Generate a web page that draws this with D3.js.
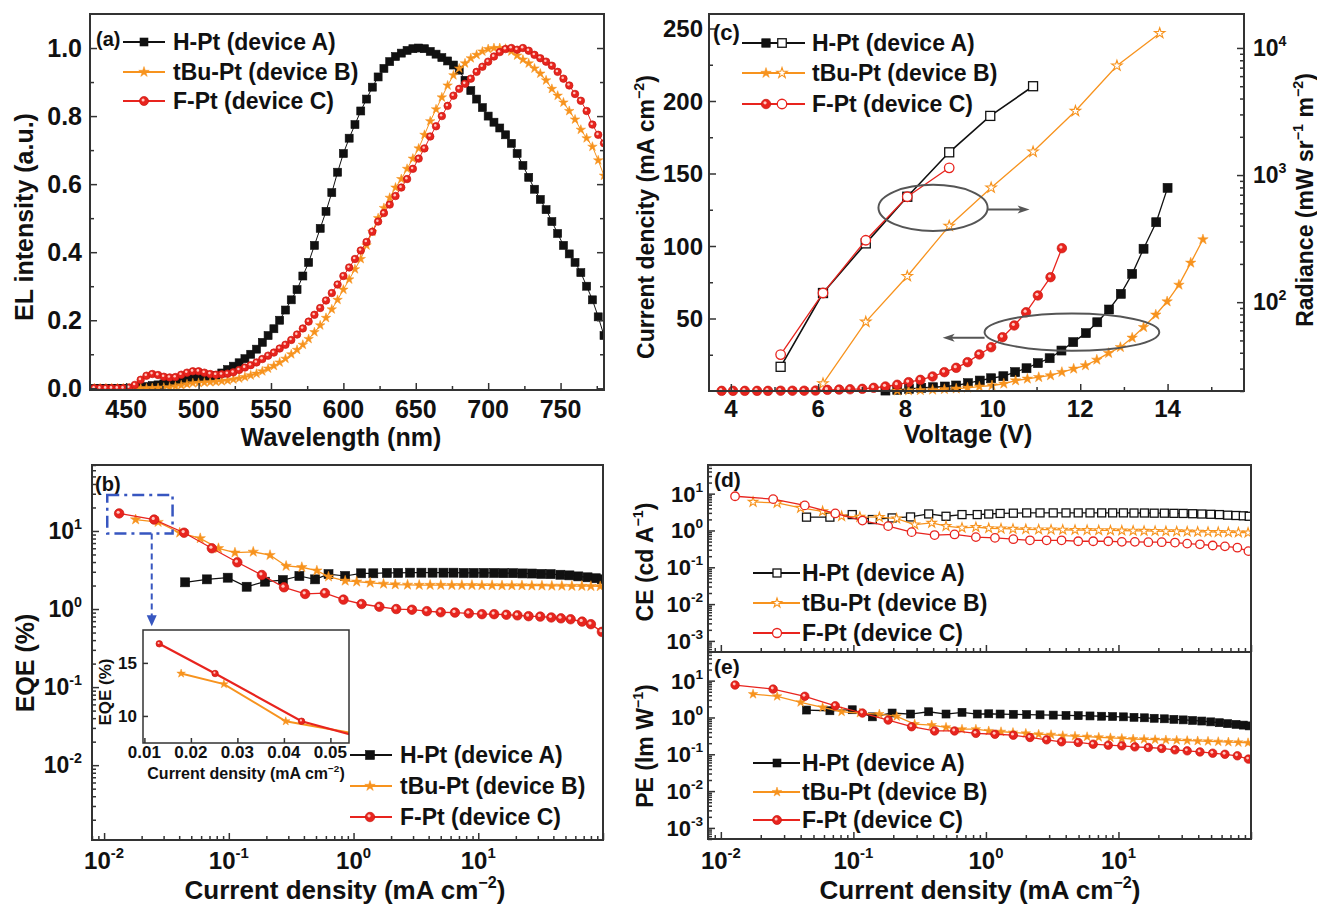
<!DOCTYPE html>
<html><head><meta charset="utf-8">
<script src="https://cdn.jsdelivr.net/npm/d3@7/dist/d3.min.js"></script>
<style>html,body{margin:0;padding:0;background:#fff;}</style>
</head><body>
<script>
// ================= DATA =================
const seriesLabels = ["H-Pt (device A)", "tBu-Pt (device B)", "F-Pt (device C)"];

// (a) EL spectra
const wavelength = [428,432,436,440,444,448,452,456,460,464,468,472,476,480,484,488,492,496,500,504,508,512,516,520,524,528,532,536,540,544,548,552,556,560,564,568,572,576,580,584,588,592,596,600,604,608,612,616,620,624,628,632,636,640,644,648,652,656,660,664,668,672,676,680,684,688,692,696,700,704,708,712,716,720,724,728,732,736,740,744,748,752,756,760,764,768,772,776,780];
const elA = [0,0,0,0,0,0,0,0.001,0.003,0.005,
 0.008,0.01,0.013,0.017,0.02,0.022,0.025,0.028,0.03,0.032,
 0.034,0.038,0.045,0.055,0.065,0.075,0.087,0.1,0.115,0.135,
 0.155,0.175,0.2,0.23,0.26,0.29,0.33,0.37,0.42,0.47,
 0.52,0.575,0.635,0.69,0.735,0.775,0.815,0.85,0.885,0.915,
 0.94,0.96,0.975,0.985,0.993,0.998,1.0,0.998,0.99,0.982,
 0.972,0.962,0.95,0.935,0.905,0.875,0.85,0.825,0.8,0.782,
 0.765,0.745,0.72,0.69,0.655,0.62,0.585,0.555,0.525,0.49,
 0.455,0.42,0.395,0.37,0.34,0.3,0.26,0.21,0.155];
const elB = [0,0,0,0,0,0,0,0,0,0,
 0.001,0.001,0.002,0.003,0.006,0.009,0.012,0.015,0.016,0.017,
 0.018,0.019,0.021,0.023,0.026,0.029,0.033,0.038,0.043,0.05,
 0.058,0.066,0.076,0.087,0.1,0.113,0.128,0.145,0.165,0.185,
 0.207,0.232,0.26,0.29,0.32,0.35,0.38,0.42,0.46,0.5,
 0.53,0.56,0.59,0.615,0.645,0.675,0.705,0.745,0.785,0.82,
 0.855,0.89,0.92,0.94,0.955,0.97,0.98,0.99,0.997,1.0,
 1.0,0.998,0.99,0.978,0.966,0.955,0.94,0.925,0.905,0.88,
 0.86,0.84,0.815,0.79,0.76,0.735,0.71,0.67,0.625];
const elC = [0,0,0,0,0,0,0.002,0.01,0.025,0.037,
 0.042,0.039,0.034,0.032,0.033,0.04,0.046,0.05,0.05,0.046,
 0.042,0.04,0.041,0.043,0.047,0.054,0.061,0.068,0.076,0.086,
 0.096,0.105,0.117,0.128,0.142,0.158,0.176,0.196,0.216,0.236,
 0.258,0.28,0.305,0.33,0.355,0.38,0.405,0.43,0.46,0.49,
 0.515,0.54,0.565,0.59,0.615,0.645,0.675,0.705,0.74,0.77,
 0.8,0.83,0.86,0.88,0.895,0.91,0.93,0.945,0.96,0.975,
 0.988,0.997,1.0,0.995,1.0,0.992,0.98,0.97,0.96,0.948,
 0.93,0.91,0.89,0.865,0.845,0.815,0.775,0.745,0.72];

// (c) current density (left axis) vs voltage
const voltJA = [7.54,7.81,8.08,8.36,8.63,8.90,9.16,9.43,9.70,9.96,10.24,10.51,10.77,11.03,11.30,11.57,11.84,12.13,12.39,12.66,12.93,13.19,13.45,13.74,14.0];
const currJA = [0.3,0.8,1.5,2.2,2.6,3.1,3.8,5.4,7.2,8.8,10.2,13.0,15.7,19.2,22.6,27.9,33.7,39.9,47.4,56.2,67.0,80.8,98.1,116.4,140.1];
const voltJB = [7.81,8.07,8.34,8.62,8.89,9.16,9.42,9.69,9.98,10.25,10.52,10.79,11.05,11.32,11.58,11.85,12.12,12.38,12.65,12.92,13.19,13.45,13.73,13.99,14.26,14.53,14.81];
const currJB = [0.2,0.3,0.5,0.8,1.2,1.6,2.2,3.0,3.8,5.0,7.2,8.4,9.5,10.7,13.0,15.3,17.6,21.5,26.1,30.2,36.7,44.0,52.6,61.7,73.2,88.4,104.5];
const voltJC = [3.79,4.05,4.32,4.60,4.85,5.14,5.41,5.68,5.94,6.21,6.48,6.73,7.01,7.27,7.54,7.81,8.07,8.34,8.62,8.89,9.16,9.42,9.69,9.96,10.22,10.49,10.76,11.03,11.32,11.58];
const currJC = [0.1,0.1,0.1,0.1,0.1,0.2,0.2,0.2,0.3,0.8,1.0,1.2,1.5,2.2,3.1,4.3,6.1,7.7,10.0,13.0,16.0,19.9,25.2,30.2,37.1,45.2,54.3,65.9,78.5,98.5];
// (c) radiance (right axis) vs voltage
const voltRA = [5.14,6.11,7.09,8.04,9.0,9.94,10.92];
const radA   = [31,118,290,675,1510,2920,5000];
const voltRB = [6.11,7.09,8.04,9.0,9.96,10.92,11.89,12.84,13.82];
const radB   = [22.9,70,160,398,795,1525,3190,7250,13070];
const voltRC = [5.14,6.11,7.09,8.04,9.0];
const radC   = [38.7,118,307,675,1140];

// (b) EQE vs current density
const cdbA = [0.0447,0.0667,0.098,0.139,0.195,0.271,0.368,0.492,0.63,0.857,1.15,1.44,1.85,2.28,2.84,3.5,4.3,5.26,6.33,7.65,9.2,11.1,13.4,15.9,19.0,22.6,27,32,38,45.5,53.8,63.4,75.2,87.5,98];
const eqeA = [2.2,2.4,2.52,1.93,2.24,2.35,2.65,2.4,2.8,2.65,2.87,2.87,2.9,2.9,2.92,2.92,2.92,2.92,2.92,2.9,2.9,2.9,2.9,2.88,2.88,2.86,2.85,2.82,2.8,2.75,2.7,2.62,2.55,2.48,2.4];
const cdbB = [0.0179,0.0271,0.0404,0.059,0.0826,0.112,0.157,0.214,0.288,0.385,0.508,0.63,0.857,1.06,1.36,1.74,2.16,2.71,3.36,4.11,5.01,6.14,7.39,8.9,10.7,12.9,15.5,18.6,22.4,26.9,32.4,38.9,46.8,56.3,67.7,80,95];
const eqeB = [14.0,13.0,9.5,8.05,6.0,5.27,5.4,4.9,3.56,3.43,3.1,2.6,2.3,2.24,2.17,2.1,2.06,2.04,2.03,2.03,2.03,2.02,2.02,2.02,2.01,2.01,2.0,2.0,2.0,1.99,1.99,1.98,1.98,1.97,1.97,1.96,1.95];
const cdbC = [0.0132,0.0252,0.0438,0.0731,0.117,0.184,0.277,0.409,0.59,0.83,1.16,1.61,2.2,2.94,3.87,5.0,6.5,8.4,10.7,13.4,16.8,20.6,25.3,31.4,38.5,46,55,68,80,98];
const eqeC = [16.8,14.0,9.5,6.0,3.97,2.73,1.90,1.56,1.6,1.32,1.16,1.07,1.0,0.98,0.94,0.91,0.90,0.88,0.86,0.86,0.845,0.83,0.81,0.80,0.78,0.76,0.74,0.69,0.64,0.51];

// (d) CE and (e) PE vs current density
const cdeA = [0.0443,0.0665,0.098,0.139,0.196,0.27,0.37,0.5,0.66,0.86,1.05,1.28,1.61,2.03,2.56,3.22,4.02,4.97,6.1,7.47,9.04,10.9,13.1,15.7,18.6,22.2,26.2,30.8,36.3,42.5,49.7,57.7,66.7,77.1,87.5,97];
const ceA  = [2.3,2.3,2.7,1.98,2.19,2.33,2.81,2.43,2.7,2.7,2.8,2.9,2.95,3.0,3.0,3.0,3.0,3.0,3.0,3.0,3.0,3.0,2.98,2.98,2.95,2.95,2.92,2.9,2.85,2.8,2.75,2.7,2.6,2.55,2.5,2.43];
const peA  = [1.59,1.52,1.62,1.04,1.32,1.24,1.43,1.24,1.38,1.24,1.26,1.24,1.22,1.2,1.18,1.16,1.14,1.12,1.1,1.08,1.06,1.04,1.01,0.98,0.95,0.92,0.89,0.86,0.83,0.8,0.76,0.72,0.68,0.65,0.62,0.59];
const cdeB = [0.0175,0.0266,0.040,0.0586,0.0815,0.112,0.157,0.212,0.29,0.39,0.5,0.66,0.84,1.05,1.3,1.6,2.0,2.5,3.1,3.8,4.7,5.8,7.1,8.7,10.6,12.9,15.6,18.9,22.8,27.5,33,39.6,47.4,56.6,67.5,80.3,95];
const ceB  = [5.96,5.6,4.1,3.3,2.43,2.33,2.29,2.1,1.45,1.6,1.31,1.18,1.23,1.15,1.12,1.1,1.08,1.06,1.05,1.04,1.03,1.02,1.01,1.0,0.99,0.98,0.97,0.96,0.95,0.94,0.93,0.92,0.91,0.9,0.89,0.88,0.87];
const peB  = [4.3,3.76,2.58,1.88,1.43,1.32,1.24,1.07,0.66,0.62,0.54,0.48,0.48,0.43,0.41,0.39,0.37,0.35,0.34,0.32,0.31,0.3,0.29,0.28,0.27,0.26,0.255,0.25,0.245,0.24,0.235,0.23,0.225,0.22,0.215,0.21,0.205];
const cdeC = [0.0128,0.0248,0.043,0.073,0.117,0.183,0.275,0.41,0.58,0.84,1.17,1.61,2.15,2.87,3.72,4.97,6.45,8.38,10.6,13.3,16.8,21.2,26.7,33,41.2,51.4,63.6,78.9,95.6];
const ceC  = [8.5,7.1,4.8,2.9,1.86,1.31,0.9,0.75,0.78,0.66,0.63,0.58,0.54,0.54,0.54,0.51,0.51,0.51,0.49,0.49,0.48,0.48,0.47,0.44,0.42,0.39,0.37,0.34,0.275];
const peC  = [7.6,5.9,3.76,2.08,1.32,0.85,0.56,0.43,0.43,0.37,0.35,0.33,0.286,0.247,0.218,0.21,0.188,0.177,0.17,0.159,0.153,0.144,0.132,0.124,0.116,0.107,0.1,0.091,0.074];

// tick labels
const ticksA_x = [450,500,550,600,650,700,750];
const ticksA_y = [0,0.2,0.4,0.6,0.8,1.0];
const ticksC_x = [4,6,8,10,12,14];
const ticksC_y = [50,100,150,200,250];
const ticksLog_x = [0.01,0.1,1,10];
const ticksIns_x = [0.01,0.02,0.03,0.04,0.05];
const ticksIns_y = [10,15];

// annotations (data units)
const ellipseRad = {v:8.63, j:126.3, dv:1.25, dj:15.9, arrowFrom:9.88, arrowTo:10.84, arrowJ:125.2};
const ellipseJ   = {v:11.81, j:40.6, dv:2.0, dj:12.9, arrowFrom:9.81, arrowTo:8.85, arrowJ:36.7};
const zoomBox = {x0:0.0106, x1:0.0354, y0:29, y1:9.3, arrowX:0.0241, arrowTo:0.6};

// ================= LAYOUT / STYLE =================
const COL = {A:"#111111", B:"#f7931e", C:"#e8241e"};
const P = {
  a:{l:90,t:14,r:604,b:390}, c:{l:709,t:14,r:1244,b:391}, b:{l:92,t:465,r:603,b:840},
  d:{l:708,t:465,r:1251,b:652}, e:{l:708,t:652,r:1251,b:839}, ins:{l:143,t:630,r:349,b:743}
};
const FONT = '"Liberation Sans", Arial, Helvetica, sans-serif';

const svg = d3.select("body").append("svg").attr("width",1317).attr("height",904)
  .style("font-family",FONT).style("font-weight","bold");
svg.append("rect").attr("width",1317).attr("height",904).attr("fill","#fff");
const defs = svg.append("defs");

// scales
const xa = d3.scaleLinear().domain([425,780]).range([P.a.l,P.a.r]);
const ya = d3.scaleLinear().domain([-0.005,1.1]).range([P.a.b,P.a.t]);
const xc = d3.scaleLinear().domain([3.5,15.75]).range([P.c.l,P.c.r]);
const ycL = d3.scaleLinear().domain([0,260]).range([P.c.b,P.c.t]);
const ycR = d3.scaleLog().domain([20,18500]).range([P.c.b,P.c.t]);
const xb = d3.scaleLog().domain([0.008,100]).range([P.b.l,P.b.r]);
const yb = d3.scaleLog().domain([0.0011,70]).range([P.b.b,P.b.t]);
const xde = d3.scaleLog().domain([0.008,100]).range([P.d.l,P.d.r]);
const yd = d3.scaleLog().domain([0.0005,60]).range([P.d.b,P.d.t]);
const ye = d3.scaleLog().domain([0.0005,60]).range([P.e.b,P.e.t]);
const xin = d3.scaleLinear().domain([0.0097,0.054]).range([P.ins.l,P.ins.r]);
const yin = d3.scaleLinear().domain([7.45,18.1]).range([P.ins.b,P.ins.t]);

function clip(id,f,pad){
  pad = pad||0;
  defs.append("clipPath").attr("id",id).append("rect")
    .attr("x",f.l-pad).attr("y",f.t-pad).attr("width",f.r-f.l+2*pad).attr("height",f.b-f.t+2*pad);
  return `url(#${id})`;
}
const clipA = clip("cA",P.a), clipC = clip("cC",P.c,7), clipB = clip("cB",P.b),
      clipD = clip("cD",P.d), clipE = clip("cE",P.e), clipI = clip("cI",P.ins);

function frame(f,w){
  svg.append("rect").attr("x",f.l).attr("y",f.t).attr("width",f.r-f.l).attr("height",f.b-f.t)
    .attr("fill","none").attr("stroke","#333").attr("stroke-width",w||2);
}
function tickMarks(scale, orient, f, values, len){
  const gen = {bottom:d3.axisBottom, top:d3.axisTop, left:d3.axisLeft, right:d3.axisRight}[orient];
  const ax = gen(scale).tickValues(values).tickSizeInner(-len).tickSizeOuter(0).tickFormat("");
  const tr = orient==="bottom"?`translate(0,${f.b})`:orient==="top"?`translate(0,${f.t})`:
             orient==="left"?`translate(${f.l},0)`:`translate(${f.r},0)`;
  const g = svg.append("g").attr("transform",tr).call(ax);
  g.select(".domain").remove();
  g.selectAll("line").attr("stroke","#333").attr("stroke-width",1.5);
}
function logTicks(scale){
  const [a,b] = scale.domain(); const maj=[], min=[];
  for(let k=Math.floor(Math.log10(a)); k<=Math.ceil(Math.log10(b)); k++){
    for(let j=1;j<10;j++){ const v=j*Math.pow(10,k); if(v<a*0.999||v>b*1.001) continue; (j===1?maj:min).push(v); }
  }
  return {maj,min};
}
function txt(x,y,s,size,anchor,dy){
  return svg.append("text").attr("x",x).attr("y",y).attr("font-size",size).attr("text-anchor",anchor||"start")
    .attr("dy",dy||0).attr("fill","#111").text(s);
}
function powLabel(x,y,exp,size,anchor,dy){
  const t = svg.append("text").attr("x",x).attr("y",y).attr("font-size",size).attr("text-anchor",anchor).attr("fill","#111");
  t.append("tspan").attr("dy",dy||0).text("10");
  t.append("tspan").attr("font-size",size*0.62).attr("dy",-size*0.45).text(exp<0?"-"+Math.abs(exp):String(exp));
}
function rich(x,y,parts,size,rot){
  const t = svg.append("text").attr("font-size",size).attr("text-anchor","middle").attr("fill","#111")
    .attr("transform",`translate(${x},${y})`+(rot?` rotate(${rot})`:""));
  let up=false;
  parts.forEach(p=>{
    const sup = typeof p!=="string";
    const s = t.append("tspan").text(sup?p.sup:p);
    if(sup){ s.attr("font-size",size*0.62); if(!up){ s.attr("dy",-size*0.42); up=true; } }
    else if(up){ s.attr("dy",size*0.42); up=false; }
  });
}
function mark(g,shape,x,y,color,sz,filled){
  if(shape==="sq"){
    g.append("rect").attr("x",x-sz/2).attr("y",y-sz/2).attr("width",sz).attr("height",sz)
      .attr("fill",filled?color:"#fff").attr("stroke",color).attr("stroke-width",filled?0.6:1.3);
  } else if(shape==="ci"){
    g.append("circle").attr("cx",x).attr("cy",y).attr("r",sz/2)
      .attr("fill",filled?color:"#fff").attr("stroke",filled?"#c81810":color).attr("stroke-width",filled?0.7:1.3);
    if(filled) g.append("circle").attr("cx",x-sz*0.1).attr("cy",y-sz*0.12).attr("r",sz*0.17).attr("fill","#ffc8c0");
  } else {
    const r = sz/2;
    g.append("path").attr("d",d3.symbol().type(d3.symbolStar).size(r*r/0.8908)())
      .attr("transform",`translate(${x},${y})`)
      .attr("fill",filled?color:"#fff").attr("stroke",color).attr("stroke-width",filled?0.5:1.1);
  }
}
function plot(clipUrl,xs,ys,xS,yS,color,shape,sz,filled,lw){
  const g = svg.append("g").attr("clip-path",clipUrl);
  const data = xs.map((x,i)=>({x:x,y:ys[i]}));
  g.append("path").datum(data).attr("fill","none").attr("stroke",color).attr("stroke-width",lw)
    .attr("d",d3.line().x(d=>xS(d.x)).y(d=>yS(d.y)));
  const mg = g.append("g");
  data.forEach(d=>mark(mg,shape,xS(d.x),yS(d.y),color,sz,filled));
}
function legendRow(x1,x2,mxs,fills,y,color,shape,sz,tx,label,fs){
  svg.append("line").attr("x1",x1).attr("x2",x2).attr("y1",y).attr("y2",y).attr("stroke",color).attr("stroke-width",1.8);
  mxs.forEach((mx,i)=>mark(svg,shape,mx,y,color,sz,fills[i]));
  txt(tx,y,label,fs,"start","0.36em");
}
const sup = s=>({sup:s});

// ================= PANEL (a) =================
plot(clipA, wavelength, elA, xa, ya, COL.A, "sq", 8, true, 1);
plot(clipA, wavelength, elB, xa, ya, COL.B, "st", 10, true, 1);
plot(clipA, wavelength, elC, xa, ya, COL.C, "ci", 7.5, true, 1);
frame(P.a);
tickMarks(xa,"bottom",P.a,ticksA_x,7);
tickMarks(xa,"bottom",P.a,[475,525,575,625,675,725,775],4);
tickMarks(ya,"left",P.a,ticksA_y,7);
tickMarks(ya,"left",P.a,[0.1,0.3,0.5,0.7,0.9],4);
tickMarks(ya,"right",P.a,ticksA_y,7);
tickMarks(ya,"right",P.a,[0.1,0.3,0.5,0.7,0.9],4);
ticksA_x.forEach(v=>txt(xa(v),418,String(v),25,"middle"));
ticksA_y.forEach(v=>txt(82,ya(v),v.toFixed(1),25,"end","0.36em"));
rich(341,446,["Wavelength (nm)"],25);
rich(33,217,["EL intensity (a.u.)"],25,-90);
txt(96,46,"(a)",20,"start");
legendRow(123,165,[144],[true],42,COL.A,"sq",8,173,seriesLabels[0],23);
legendRow(123,165,[144],[true],72,COL.B,"st",11,173,seriesLabels[1],23);
legendRow(123,165,[144],[true],101,COL.C,"ci",9,173,seriesLabels[2],23);

// ================= PANEL (c) =================
plot(clipC, voltRA, radA, xc, ycR, COL.A, "sq", 9, false, 1.6);
plot(clipC, voltRB, radB, xc, ycR, COL.B, "st", 11, false, 1.3);
plot(clipC, voltRC, radC, xc, ycR, COL.C, "ci", 9.5, false, 1.3);
plot(clipC, voltJA, currJA, xc, ycL, COL.A, "sq", 9, true, 1.3);
plot(clipC, voltJB, currJB, xc, ycL, COL.B, "st", 11, true, 1.3);
plot(clipC, voltJC, currJC, xc, ycL, COL.C, "ci", 9.5, true, 1.3);
[ellipseRad, ellipseJ].forEach(e=>{
  svg.append("ellipse").attr("cx",xc(e.v)).attr("cy",ycL(e.j))
    .attr("rx",xc(e.v+e.dv)-xc(e.v)).attr("ry",ycL(e.j)-ycL(e.j+e.dj))
    .attr("fill","none").attr("stroke","#555").attr("stroke-width",2);
  const x1=xc(e.arrowFrom), x2=xc(e.arrowTo), y=ycL(e.arrowJ), dir=Math.sign(x2-x1);
  svg.append("line").attr("x1",x1).attr("x2",x2-dir*8).attr("y1",y).attr("y2",y).attr("stroke","#555").attr("stroke-width",2);
  svg.append("path").attr("d",`M${x2},${y}L${x2-dir*12},${y-4}L${x2-dir*9},${y}L${x2-dir*12},${y+4}Z`).attr("fill","#555");
});
frame(P.c);
tickMarks(xc,"bottom",P.c,ticksC_x,7);
tickMarks(xc,"bottom",P.c,[5,7,9,11,13,15],4);
tickMarks(ycL,"left",P.c,ticksC_y,7);
tickMarks(ycL,"left",P.c,[25,75,125,175,225],4);
const ltc = logTicks(ycR);
tickMarks(ycR,"right",P.c,ltc.maj,7);
tickMarks(ycR,"right",P.c,ltc.min,4);
ticksC_x.forEach(v=>txt(xc(v),417,String(v),24,"middle"));
ticksC_y.forEach(v=>txt(703,ycL(v),String(v),24,"end","0.36em"));
ltc.maj.forEach(v=>powLabel(1253,ycR(v),Math.round(Math.log10(v)),23,"start","0.36em"));
rich(968,443,["Voltage (V)"],25);
rich(654,217,["Current dencity (mA cm",sup("−2"),")"],23,-90);
rich(1313,200,["Radiance (mW sr",sup("−1")," m",sup("−2"),")"],23,-90);
txt(713,40,"(c)",22,"start");
legendRow(742,805,[766,782],[true,false],43,COL.A,"sq",8.5,812,seriesLabels[0],23);
legendRow(742,805,[766,782],[true,false],73,COL.B,"st",11,812,seriesLabels[1],23);
legendRow(742,805,[766,782],[true,false],104,COL.C,"ci",9.5,812,seriesLabels[2],23);

// ================= PANEL (b) =================
plot(clipB, cdbA, eqeA, xb, yb, COL.A, "sq", 9, true, 1.2);
plot(clipB, cdbB, eqeB, xb, yb, COL.B, "st", 11, true, 1.3);
plot(clipB, cdbC, eqeC, xb, yb, COL.C, "ci", 9.5, true, 1.3);
frame(P.b);
const ltbx = logTicks(xb), ltby = logTicks(yb);
tickMarks(xb,"bottom",P.b,ltbx.maj,7);
tickMarks(xb,"bottom",P.b,ltbx.min,4);
tickMarks(yb,"left",P.b,ltby.maj,7);
tickMarks(yb,"left",P.b,ltby.min,4);
ticksLog_x.forEach(v=>powLabel(xb(v),869,Math.round(Math.log10(v)),24,"middle"));
ltby.maj.forEach(v=>powLabel(82,yb(v),Math.round(Math.log10(v)),23,"end","0.36em"));
rich(345,899,["Current density (mA cm",sup("−2"),")"],26);
rich(34,663,["EQE (%)"],25,-90);
txt(95,491,"(b)",20,"start");
svg.append("rect").attr("x",xb(zoomBox.x0)).attr("y",yb(zoomBox.y0))
  .attr("width",xb(zoomBox.x1)-xb(zoomBox.x0)).attr("height",yb(zoomBox.y1)-yb(zoomBox.y0))
  .attr("fill","none").attr("stroke","#3756c0").attr("stroke-width",2.5).attr("stroke-dasharray","12,5,3,5");
{
  const ax=xb(zoomBox.arrowX), y1=yb(zoomBox.y1), y2=yb(zoomBox.arrowTo);
  svg.append("line").attr("x1",ax).attr("x2",ax).attr("y1",y1).attr("y2",y2-9).attr("stroke","#3756c0")
    .attr("stroke-width",2).attr("stroke-dasharray","6,4");
  svg.append("path").attr("d",`M${ax},${y2}L${ax-5},${y2-11}L${ax+5},${y2-11}Z`).attr("fill","#3756c0");
}
legendRow(350,392,[370],[true],755,COL.A,"sq",9,400,seriesLabels[0],23);
legendRow(350,392,[370],[true],786,COL.B,"st",11,400,seriesLabels[1],23);
legendRow(350,392,[370],[true],817,COL.C,"ci",9.5,400,seriesLabels[2],23);

// inset
svg.append("rect").attr("x",P.ins.l).attr("y",P.ins.t).attr("width",P.ins.r-P.ins.l).attr("height",P.ins.b-P.ins.t).attr("fill","#fff");
plot(clipI, cdbB, eqeB, xin, yin, COL.B, "st", 9, true, 2);
plot(clipI, cdbC, eqeC, xin, yin, COL.C, "ci", 6.5, true, 2.2);
frame(P.ins,1.5);
tickMarks(xin,"bottom",P.ins,ticksIns_x,5);
tickMarks(yin,"left",P.ins,ticksIns_y,5);
ticksIns_x.forEach(v=>txt(xin(v),758,v.toFixed(2),17,"middle"));
ticksIns_y.forEach(v=>txt(137,yin(v),String(v),17,"end","0.36em"));
rich(246,779,["Current density (mA cm",sup("−2"),")"],16);
rich(111,692,["EQE (%)"],17,-90);

// ================= PANELS (d) & (e) =================
plot(clipD, cdeA, ceA, xde, yd, COL.A, "sq", 8, false, 1.3);
plot(clipD, cdeB, ceB, xde, yd, COL.B, "st", 10, false, 1.3);
plot(clipD, cdeC, ceC, xde, yd, COL.C, "ci", 8.5, false, 1.3);
plot(clipE, cdeA, peA, xde, ye, COL.A, "sq", 8, true, 1.3);
plot(clipE, cdeB, peB, xde, ye, COL.B, "st", 10, true, 1.3);
plot(clipE, cdeC, peC, xde, ye, COL.C, "ci", 8.5, true, 1.3);
frame(P.d); frame(P.e);
const ltx = logTicks(xde), ltd = logTicks(yd), lte = logTicks(ye);
[P.d,P.e].forEach(f=>{ tickMarks(xde,"bottom",f,ltx.maj,7); tickMarks(xde,"bottom",f,ltx.min,4); });
tickMarks(yd,"left",P.d,ltd.maj,7); tickMarks(yd,"left",P.d,ltd.min,4);
tickMarks(ye,"left",P.e,lte.maj,7); tickMarks(ye,"left",P.e,lte.min,4);
ltd.maj.forEach(v=>powLabel(703,yd(v),Math.round(Math.log10(v)),22,"end","0.36em"));
lte.maj.forEach(v=>powLabel(703,ye(v),Math.round(Math.log10(v)),22,"end","0.36em"));
ticksLog_x.forEach(v=>powLabel(xde(v),869,Math.round(Math.log10(v)),24,"middle"));
rich(980,899,["Current density (mA cm",sup("−2"),")"],26);
rich(653,562,["CE (cd A",sup("−1"),")"],23,-90);
rich(653,746,["PE (lm W",sup("−1"),")"],23,-90);
txt(714,487,"(d)",21,"start");
txt(714,674,"(e)",21,"start");
legendRow(753,800,[777],[false],573,COL.A,"sq",8,802,seriesLabels[0],23);
legendRow(753,800,[777],[false],603,COL.B,"st",10,802,seriesLabels[1],23);
legendRow(753,800,[777],[false],633,COL.C,"ci",9,802,seriesLabels[2],23);
legendRow(753,800,[777],[true],763,COL.A,"sq",8,802,seriesLabels[0],23);
legendRow(753,800,[777],[true],792,COL.B,"st",10,802,seriesLabels[1],23);
legendRow(753,800,[777],[true],820,COL.C,"ci",9,802,seriesLabels[2],23);
</script>
</body></html>
